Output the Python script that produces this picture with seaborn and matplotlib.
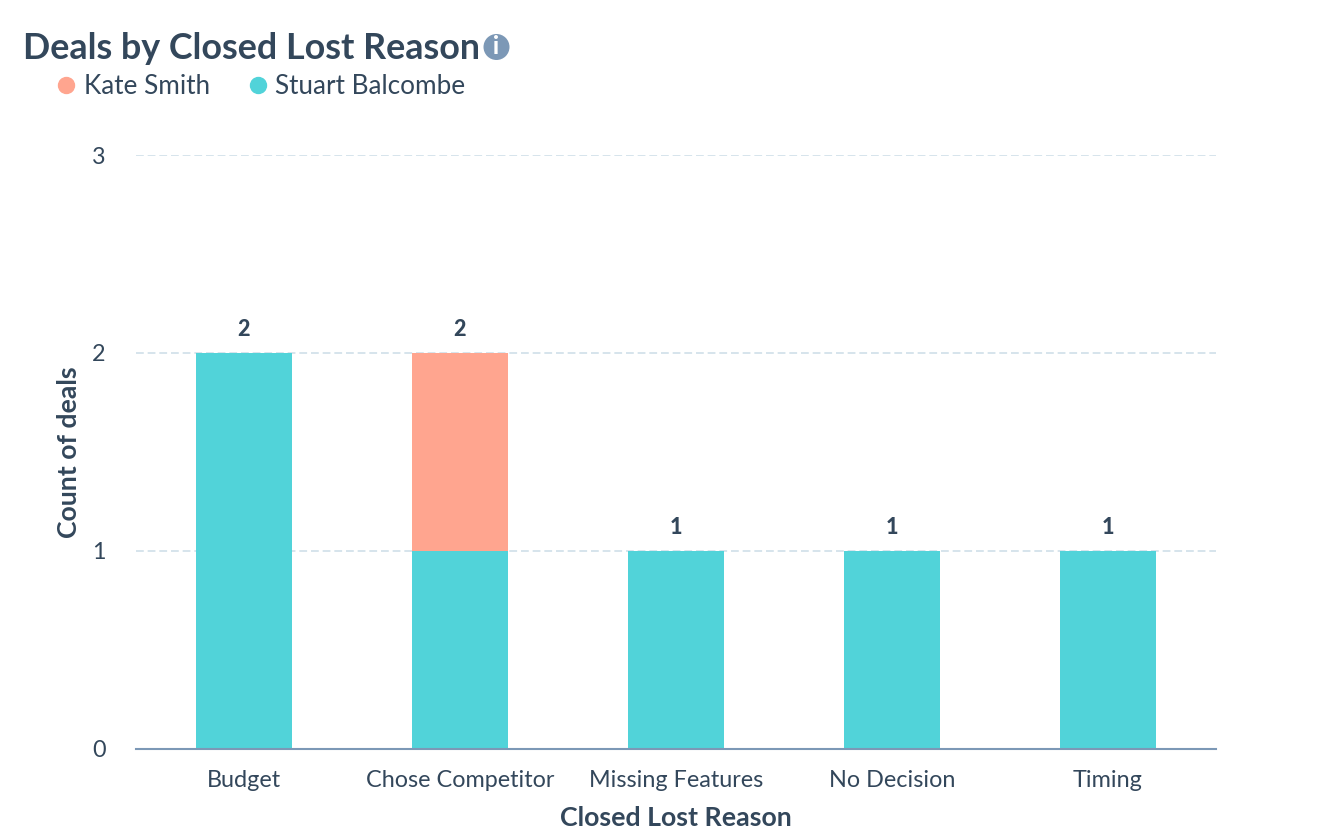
#!/usr/bin/env python3

import matplotlib.pyplot as plt
from matplotlib.lines import Line2D
from matplotlib.patches import Circle
import pandas as pd
import seaborn as sns

reasons = ["Budget", "Chose Competitor", "Missing Features", "No Decision", "Timing"]
stuart = [2, 1, 1, 1, 1]
kate = [0, 1, 0, 0, 0]
totals = [2, 2, 1, 1, 1]
y_ticks = [0, 1, 2, 3]

TEXT = "#33475b"
TEAL = "#51d3d9"
SALMON = "#ffa58f"
W, H = 1338, 840

sns.set_theme(style="white")
plt.rcParams["font.family"] = ["Lato", "DejaVu Sans"]

df = pd.DataFrame({"reason": reasons, "stuart": stuart, "kate": kate})

fig = plt.figure(figsize=(W / 100, H / 100), dpi=100, facecolor="white")
ax = fig.add_axes([136 / W, 1 - 748.5 / H, 1080 / W, 593.5 / H])

sns.barplot(data=df, x="reason", y="stuart", color=TEAL, saturation=1, width=0.444,
            linewidth=0, ax=ax, zorder=3)
sns.barplot(data=df[df.kate > 0], x="reason", y="kate", color=SALMON, saturation=1, width=0.444,
            linewidth=0, bottom=df[df.kate > 0]["stuart"].values, order=reasons, ax=ax, zorder=3)

ax.set_xlim(-0.5, 4.5)
ax.set_ylim(0, 3)
ax.set_yticks(y_ticks)
ax.grid(axis="y", color="#d6e4ec", linestyle=(0, (4, 2)), linewidth=1.4, zorder=0)
ax.set_axisbelow(True)
sns.despine(ax=ax, left=True, top=True, right=True)
ax.spines["bottom"].set_color("#7c98b6")
ax.spines["bottom"].set_linewidth(1.5)
ax.spines["bottom"].set_zorder(5)
ax.tick_params(axis="x", length=0, pad=15.5, labelsize=16.8, labelcolor=TEXT)
ax.tick_params(axis="y", length=0, pad=22, labelsize=16.8, labelcolor=TEXT)
ax.set_xlabel("Closed Lost Reason", fontsize=19.3, fontweight="bold", color=TEXT, labelpad=11)
ax.set_ylabel("Count of deals", fontsize=19.2, fontweight="bold", color=TEXT, labelpad=8)

for i, total in enumerate(totals):
    ax.annotate(str(total), (i, total), xytext=(0, 9), textcoords="offset points",
                ha="center", va="bottom", fontsize=15.5, fontweight="black", color=TEXT)

fig.text(23 / W, 1 - 48.5 / H, "Deals by Closed Lost Reason", fontsize=25.8, fontweight="bold",
         color=TEXT, va="center", ha="left")

# info icon next to the title
fig.add_artist(Circle((496.5, H - 47), 13, transform=None, facecolor="#7c98b6", edgecolor="none"))
fig.text(496.5 / W, 1 - 47 / H, "i", fontsize=17, fontweight="black", color="white", va="center", ha="center")

handles = [Line2D([], [], marker="o", linestyle="none", color=SALMON, markersize=11.5),
           Line2D([], [], marker="o", linestyle="none", color=TEAL, markersize=11.5)]
fig.legend(handles, ["Kate Smith", "Stuart Balcombe"], loc="center left",
           bbox_to_anchor=(35 / W, 1 - 87 / H), ncol=2, frameon=False, fontsize=18.8,
           labelcolor=TEXT, handletextpad=-0.02, columnspacing=1.12, borderpad=0, handlelength=1.4)

fig.savefig("out.png", dpi=100)
plt.close(fig)
